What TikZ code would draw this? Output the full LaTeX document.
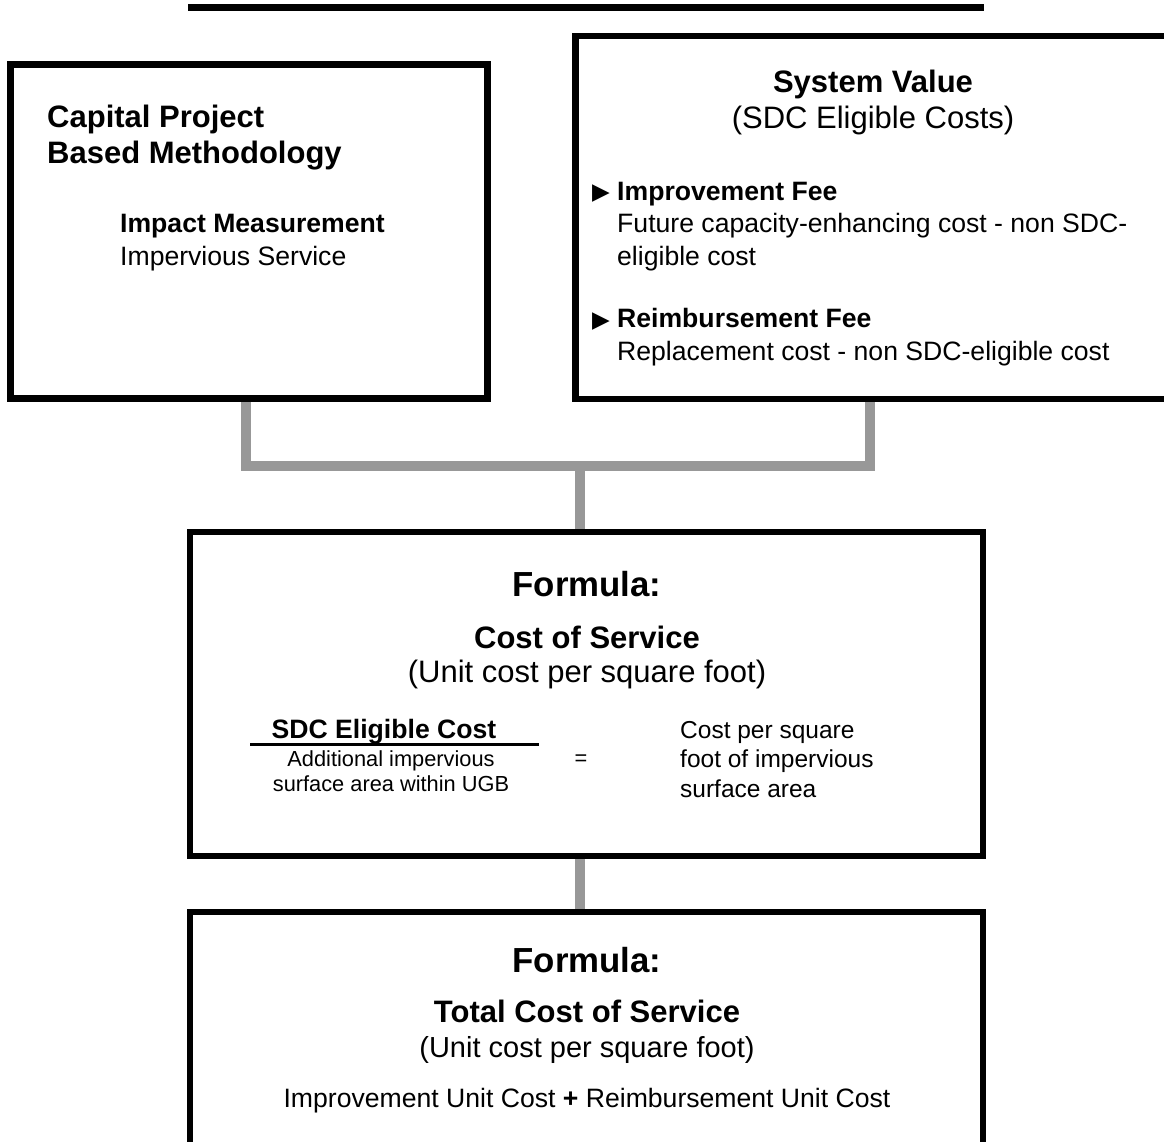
\documentclass[tikz,border=0pt]{standalone}
\usepackage{fontspec}
\setmainfont{Liberation Sans}
\newfontfamily\symfont{DejaVu Sans}

\definecolor{linkgray}{HTML}{989898}

\newcommand\fmfont{\fontsize{34.8}{40}\bfseries\selectfont}
\newcommand\hdfont{\fontsize{31}{35.5}\selectfont}
\newcommand\bdfont{\fontsize{26.6}{32.5}\selectfont}
\newcommand\ctfont{\fontsize{24.5}{29.5}\selectfont}
\newcommand\smfont{\fontsize{21.8}{24.5}\selectfont}

\tikzset{
	box/.style={draw, line width=6.5pt, inner sep=0pt},
	link/.style={draw=linkgray, line width=10pt},
	txt/.style={inner sep=0pt, anchor=base west, align=left},
	ctxt/.style={inner sep=0pt, anchor=base, align=center},
	bullet/.style={inner sep=0pt, anchor=base west, font=\symfont\fontsize{23}{23}\selectfont},
}

\begin{document}
\begin{tikzpicture}[x=1pt, y=-1pt]
	\useasboundingbox (0,0) rectangle (1164,1141);
	\clip (0,0) rectangle (1164,1141);

	\draw[line width=7pt] (188,7.5) -- (984,7.5);

	\node[box, minimum width=477pt, minimum height=334pt] (method) at (249,231.5) {};
	\node[box, minimum width=599.5pt, minimum height=363pt] (value) at (875.25,217.5) {};
	\node[box, minimum width=793pt, minimum height=324pt] (cost) at (586.5,694) {};
	\node[box, minimum width=793pt, minimum height=248pt] (total) at (586.5,1036) {};

	\coordinate (mfoot) at (246,0);
	\coordinate (vfoot) at (870,0);
	\coordinate (join) at (580,465.5);
	\draw[link] (method.south -| mfoot) |- (join) -| (value.south -| vfoot);
	\draw[link] (join) -- (cost.north -| join);
	\draw[link] (cost.south -| join) -- (total.north -| join);

	% multi-line nodes sit on the baseline of their last line
	\node[txt, font=\hdfont\bfseries] (mtitle) at (47,163) {Capital Project\\Based Methodology};
	\node[txt, font=\bdfont] (impact) at (120,265) {\textbf{Impact Measurement}\\Impervious Service};

	\node[ctxt, font=\hdfont] (vtitle) at (873,128) {\textbf{System Value}\\(SDC Eligible Costs)};
	\node[bullet] (bul1) at (592,199) {▶};
	\node[txt, font=\bdfont] (improve) at (617,265) {\textbf{Improvement Fee}\\Future capacity-enhancing cost - non SDC-\\eligible cost};
	\node[bullet] (bul2) at (592,327) {▶};
	\node[txt, font=\bdfont] (reimb) at (617,360) {\textbf{Reimbursement Fee}\\Replacement cost - non SDC-eligible cost};

	\node[ctxt, font=\fmfont] (cform) at (587,596) {Formula:};
	\node[ctxt, font=\hdfont] (cname) at (587,682) {\textbf{Cost of Service}\\[-2pt](Unit cost per square foot)};
	\node[ctxt, font=\bdfont\bfseries] (num) at (384,738) {SDC Eligible Cost};
	\draw[line width=3pt] (250,744.5) -- (539,744.5);
	\node[ctxt, font=\smfont] (den) at (391,791) {Additional impervious\\surface area within UGB};
	\node[font=\smfont, inner sep=0pt] (eq) at (581,760) {=};
	\node[txt, font=\ctfont] (per) at (680,797) {Cost per square\\foot of impervious\\surface area};

	\node[ctxt, font=\fmfont] (tform) at (587,972) {Formula:};
	\node[ctxt, font=\hdfont\bfseries] (tname) at (587,1022) {Total Cost of Service};
	\node[ctxt, font=\fontsize{29}{33}\selectfont] (tunit) at (587,1057) {(Unit cost per square foot)};
	\node[ctxt, font=\bdfont] (tsum) at (587,1107) {Improvement Unit Cost \textbf{+} Reimbursement Unit Cost};
\end{tikzpicture}
\end{document}
